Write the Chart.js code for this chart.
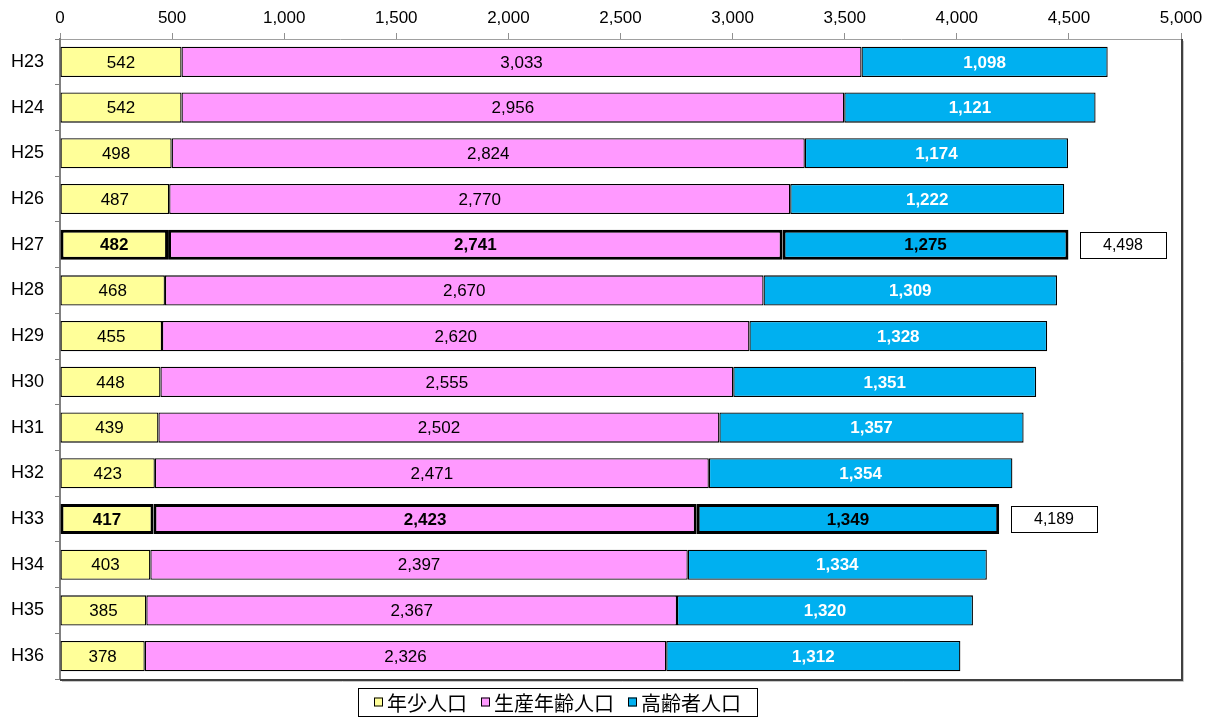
<!DOCTYPE html>
<html>
<head>
<meta charset="utf-8">
<script src="https://cdn.jsdelivr.net/npm/chart.js@4.4.1/dist/chart.umd.min.js"></script>
<style>
html,body{margin:0;padding:0;background:#fff;}
#wrap{width:1212px;height:717px;position:relative;}
</style>
</head>
<body>
<div id="wrap"><canvas id="c"></canvas></div>
<script>
const categories = ['H23','H24','H25','H26','H27','H28','H29','H30','H31','H32','H33','H34','H35','H36'];
const youngPop   = [542,542,498,487,482,468,455,448,439,423,417,403,385,378];
const workingPop = [3033,2956,2824,2770,2741,2670,2620,2555,2502,2471,2423,2397,2367,2326];
const elderlyPop = [1098,1121,1174,1222,1275,1309,1328,1351,1357,1354,1349,1334,1320,1312];
const seriesNames = ['年少人口','生産年齢人口','高齢者人口'];
const highlighted = ['H27','H33'];
const xTicks = [0,500,1000,1500,2000,2500,3000,3500,4000,4500,5000];

const colors = ['#FFFF99','#FF99FF','#00B0F0'];
const NUMFONT = '"Liberation Sans", Arial, sans-serif';
const JPFONT = '"Noto Sans CJK JP", sans-serif';
const fmt = v => v.toLocaleString('en-US');
const isHi = i => highlighted.includes(categories[i]);

const labelPlugin = {
  id: 'labels',
  afterDatasetsDraw(chart) {
    const ctx = chart.ctx;
    ctx.save();
    ctx.textAlign = 'center';
    ctx.textBaseline = 'middle';
    chart.data.datasets.forEach((ds, di) => {
      const meta = chart.getDatasetMeta(di);
      meta.data.forEach((el, i) => {
        const hi = isHi(i);
        const x = (el.x + el.base) / 2;
        const bold = hi || di === 2;
        ctx.font = (bold ? 'bold ' : '') + '17px ' + NUMFONT;
        ctx.fillStyle = (di === 2 && !hi) ? '#ffffff' : '#000000';
        ctx.fillText(fmt(ds.data[i]), x, el.y + 1);
      });
    });
    const last = chart.getDatasetMeta(2);
    last.data.forEach((el, i) => {
      if (!isHi(i)) return;
      const total = youngPop[i] + workingPop[i] + elderlyPop[i];
      const bx = Math.round(el.x + 12), bw = 86, bh = 26, by = Math.round(el.y - bh / 2);
      ctx.fillStyle = '#fff';
      ctx.fillRect(bx, by, bw, bh);
      ctx.strokeStyle = '#000';
      ctx.lineWidth = 1;
      ctx.strokeRect(bx + 0.5, by + 0.5, bw, bh);
      ctx.fillStyle = '#000';
      ctx.font = '16px ' + NUMFONT;
      ctx.fillText(fmt(total), bx + bw / 2, el.y + 1);
    });
    ctx.restore();
  },
  afterDraw(chart) {
    const ctx = chart.ctx;
    const a = chart.chartArea;
    ctx.save();
    ctx.strokeStyle = '#c8c8c8';
    ctx.lineWidth = 1;
    ctx.beginPath();
    ctx.moveTo(a.right + 2.5, a.top + 2);
    ctx.lineTo(a.right + 2.5, a.bottom + 2.5);
    ctx.lineTo(a.left + 2, a.bottom + 2.5);
    ctx.stroke();
    ctx.strokeStyle = '#404040';
    ctx.lineWidth = 2;
    ctx.beginPath();
    ctx.moveTo(a.right + 1, a.top);
    ctx.lineTo(a.right + 1, a.bottom + 1);
    ctx.lineTo(a.left, a.bottom + 1);
    ctx.stroke();
    // legend
    const items = seriesNames.map((n, i) => ({ n, c: colors[i] }));
    ctx.font = '20px ' + JPFONT;
    ctx.textBaseline = 'middle';
    ctx.textAlign = 'left';
    const box = 9, gapBox = 4, gapItem = 14;
    const widths = items.map(it => ctx.measureText(it.n).width);
    const lx = 358, lw = 399, ly = 688, lh = 28;
    const cy = ly + lh / 2;
    ctx.fillStyle = '#fff';
    ctx.fillRect(lx, ly, lw, lh);
    ctx.strokeStyle = '#000';
    ctx.lineWidth = 1;
    ctx.strokeRect(lx + 0.5, ly + 0.5, lw, lh);
    let x = lx + 16;
    items.forEach((it, i) => {
      ctx.fillStyle = it.c;
      ctx.fillRect(x, cy - box / 2, box, box);
      ctx.strokeStyle = '#000';
      ctx.strokeRect(x + 0.5, cy - box / 2 + 0.5, box - 1, box - 1);
      x += box + gapBox;
      ctx.fillStyle = '#000';
      ctx.fillText(it.n, x, cy + 1);
      x += widths[i] + gapItem;
    });
    ctx.restore();
  }
};

const hiBorder = ctx => isHi(ctx.dataIndex) ? 3 : 1.3;

new Chart(document.getElementById('c'), {
  type: 'bar',
  data: {
    labels: categories,
    datasets: [youngPop, workingPop, elderlyPop].map((d, i) => ({
      label: seriesNames[i],
      data: d,
      backgroundColor: colors[i],
      borderColor: '#000',
      borderWidth: hiBorder,
      borderSkipped: false,
      categoryPercentage: 0.66,
      barPercentage: 1.0
    }))
  },
  options: {
    indexAxis: 'y',
    responsive: true,
    maintainAspectRatio: false,
    animation: false,
    layout: { padding: { top: 0, right: 31, bottom: 38, left: 0 } },
    plugins: { legend: { display: false }, tooltip: { enabled: false } },
    scales: {
      x: {
        position: 'top',
        stacked: true,
        min: 0, max: 5000,
        afterBuildTicks: s => { s.ticks = xTicks.map(v => ({ value: v })); },
        afterFit: s => { s.height = 39; },
        ticks: { color: '#000', font: { size: 17, family: NUMFONT }, padding: 4, maxRotation: 0, callback: v => fmt(v) },
        grid: { drawOnChartArea: false, drawTicks: true, tickLength: 6, color: '#909090' },
        border: { color: '#a0a0a0', width: 1 }
      },
      y: {
        stacked: true,
        afterFit: s => { s.width = 60; },
        ticks: { color: '#000', font: { size: 18, family: NUMFONT }, padding: 11 },
        grid: { offset: true, drawOnChartArea: false, drawTicks: true, tickLength: 5, color: '#808080' },
        border: { color: '#808080', width: 2 }
      }
    }
  },
  plugins: [labelPlugin]
});
</script>
</body>
</html>
